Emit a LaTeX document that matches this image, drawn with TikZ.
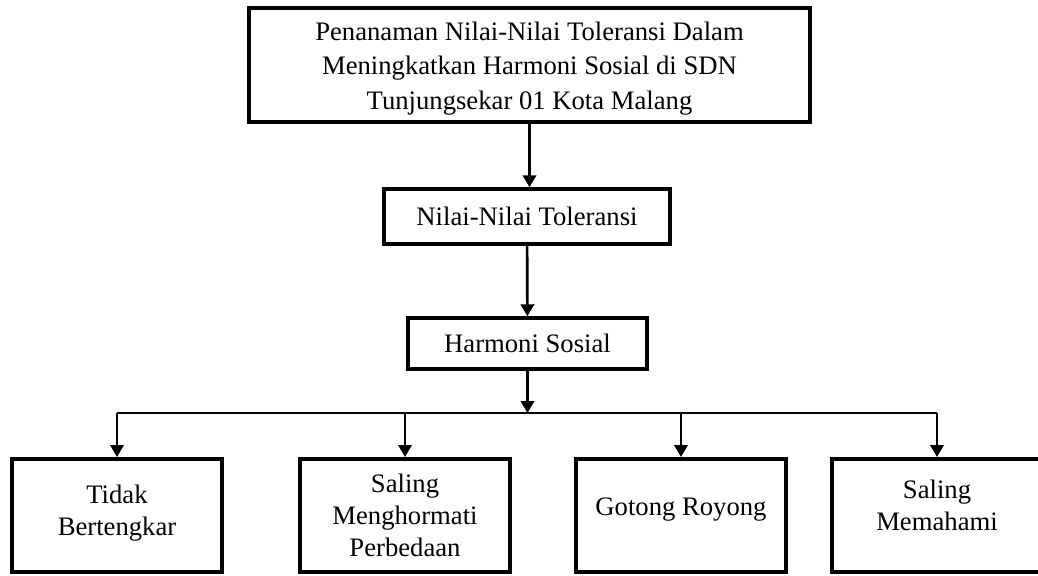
\documentclass[tikz,border=0pt]{standalone}
\usepackage{fontspec}
\setmainfont{Liberation Serif}
\usetikzlibrary{arrows.meta}

\newcommand{\px}{0.75pt}
% struts that move a text block up or down inside its box
\newcommand{\tinggi}[1]{\rule{0pt}{#1}}
\newcommand{\dalam}[1]{\rule[-#1]{0pt}{#1}}

\begin{document}
\begin{tikzpicture}[x=0.75pt, y=-0.75pt,
    font=\fontsize{20}{25.5}\selectfont,
    box/.style={draw, line width=2.6pt, align=center, inner sep=0pt},
    leaf/.style={box, line width=3pt, minimum width=210*\px, minimum height=113*\px,
      font=\fontsize{20}{24}\selectfont},
    arr/.style={line width=2pt, -{Triangle[width=10pt, length=9pt]}},
    link/.style={line width=1pt}]

  \useasboundingbox (0,0) rectangle (1038,575);

  % ────────────────────────────────────────────────────────────────────
  % Main chain: title -> Nilai-Nilai Toleransi -> Harmoni Sosial
  % ────────────────────────────────────────────────────────────────────
  \node[box, minimum width=561*\px, minimum height=114*\px,
    font=\fontsize{20}{26}\selectfont] (judul) at (529.5,65)
    {\tinggi{19pt}Penanaman Nilai-Nilai Toleransi Dalam\\
     Meningkatkan Harmoni Sosial di SDN\\
     Tunjungsekar 01 Kota Malang};

  \node[box, minimum width=286*\px, minimum height=55*\px] (nilai) at (527,216.5)
    {Nilai-Nilai Toleransi};

  \node[box, minimum width=239*\px, minimum height=51*\px] (harmoni) at (527.5,343.5)
    {Harmoni Sosial};

  \draw[arr] (judul) -- (judul |- nilai.north);
  \draw[arr] (nilai) -- (harmoni);

  % ────────────────────────────────────────────────────────────────────
  % Four forms of social harmony (bottom row, cut by the page edge)
  % ────────────────────────────────────────────────────────────────────
  \node[leaf] (b1) at (117,515.5) {Tidak\\Bertengkar\dalam{8pt}};
  \node[leaf] (b2) at (405,515.5) {Saling\\Menghormati\\Perbedaan};
  \node[leaf] (b3) at (681,515.5) {Gotong Royong\dalam{13pt}};
  \node[leaf] (b4) at (937,515.5) {Saling\\Memahami\dalam{15pt}};

  % branching line
  \coordinate (cabang) at (527.5,413);
  \draw[arr] (harmoni) -- (cabang);
  \draw[link] (b1 |- cabang) -- (b4 |- cabang);
  \foreach \b in {b1,b2,b3,b4}
    \draw[arr] (\b |- cabang) -- (\b.north);

\end{tikzpicture}
\end{document}
